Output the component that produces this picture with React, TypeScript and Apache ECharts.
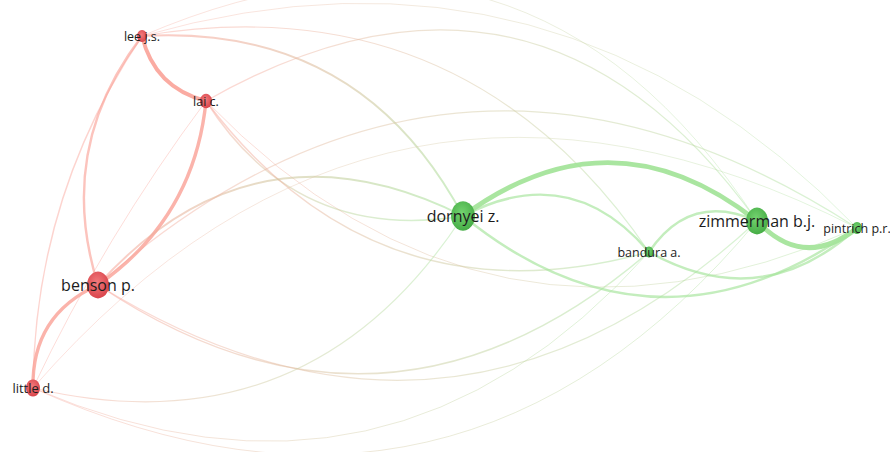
import React, { useEffect, useRef } from "react";
import * as echarts from "echarts";

// ---- Data ----
const nodeNames = [
  "lee j.s.",
  "lai c.",
  "benson p.",
  "little d.",
  "dornyei z.",
  "bandura a.",
  "zimmerman b.j.",
  "pintrich p.r.",
];
// map coordinates (VOSviewer-style layout)
const nodeX = [142, 206, 98, 33, 463, 649, 757, 857];
const nodeY = [36, 101, 285, 388, 216, 252, 221, 228];
// node weight (drives circle size)
const nodeWeight = [10, 12, 22, 14, 24, 9, 22, 10];
const nodeCluster = [0, 0, 0, 0, 1, 1, 1, 1];

// links: source index, target index, link strength
const linkSource = [0, 0, 1, 2, 0, 1, 0, 0, 0, 0, 1, 1, 1, 1, 2, 2, 2, 2, 3, 3, 3, 3, 4, 4, 4, 5, 5, 6];
const linkTarget = [1, 2, 2, 3, 3, 3, 4, 5, 6, 7, 4, 5, 7, 6, 4, 7, 5, 6, 4, 5, 6, 7, 6, 5, 7, 6, 7, 7];
const linkStrength = [7, 4, 6, 6, 2, 1, 3, 1.5, 0.8, 0.8, 2, 2, 1, 1.5, 3, 1.5, 2, 1.5, 1.5, 1, 1, 0.8, 9, 4, 4, 4, 4, 9];
// arc bend of each link (signed curveness)
const linkBend = [-0.3, -0.26, 0.23, -0.33, -0.15, -0.05, 0.32, 0.32, 0.42, 0.3, -0.33, -0.34, -0.35, 0.45, 0.38, 0.38, -0.38, -0.38, -0.35, -0.36, -0.38, 0.39, 0.38, 0.4, -0.38, 0.42, -0.36, -0.46];

// ---- Styles ----
const clusterEdge = [
  [250, 165, 155],
  [165, 228, 155],
];
const clusterNode = [
  ["#f27a7c", "#d9454c"],
  ["#74d370", "#46ad46"],
];
const labelSize = (w: number) => (w >= 22 ? 16 : w >= 20 ? 15 : w >= 14 ? 13 : 12.5);

export default function App() {
  const ref = useRef<HTMLDivElement>(null);
  useEffect(() => {
    if (!ref.current) return;
    const chart = echarts.init(ref.current, undefined, { renderer: "svg" });

    const nodes = nodeNames.map((name, i) => {
      const c = clusterNode[nodeCluster[i]];
      const w = nodeWeight[i];
      return {
        name,
        x: nodeX[i],
        y: nodeY[i],
        symbol: "circle",
        symbolSize: [w, w * 1.22],
        itemStyle: {
          color: new echarts.graphic.RadialGradient(0.45, 0.4, 0.6, [
            { offset: 0, color: c[0] },
            { offset: 1, color: c[1] },
          ]),
        },
        label: {
          show: true,
          position: "inside",
          color: "#1c1c1c",
          fontFamily: "Open Sans",
          fontSize: labelSize(w),
        },
      };
    });

    const links = linkSource.map((s, k) => {
      const t = linkTarget[k];
      const st = linkStrength[k];
      const alpha = Math.min(0.95, 0.3 + st * 0.09);
      const a = clusterEdge[nodeCluster[s]];
      const b = clusterEdge[nodeCluster[t]];
      const dx = nodeX[t] - nodeX[s];
      const dy = nodeY[t] - nodeY[s];
      let x0 = dx >= 0 ? 0 : 1;
      let x1 = 1 - x0;
      let y0 = 0.5,
        y1 = 0.5;
      if (Math.abs(dy) > 0.4 * Math.abs(dx)) {
        y0 = dy >= 0 ? 0 : 1;
        y1 = 1 - y0;
      }
      if (Math.abs(dx) < 0.3 * Math.abs(dy)) {
        x0 = 0.5;
        x1 = 0.5;
      }
      return {
        source: nodeNames[s],
        target: nodeNames[t],
        lineStyle: {
          width: 0.5 + st * 0.48,
          curveness: linkBend[k],
          opacity: 1,
          color: new echarts.graphic.LinearGradient(x0, y0, x1, y1, [
            { offset: 0, color: `rgba(${a[0]},${a[1]},${a[2]},${alpha})` },
            { offset: 1, color: `rgba(${b[0]},${b[1]},${b[2]},${alpha})` },
          ]),
        },
      };
    });

    chart.setOption({
      animation: false,
      backgroundColor: "#ffffff",
      series: [
        {
          type: "graph",
          layout: "none",
          left: 33,
          top: 36,
          width: 824,
          height: 352,
          roam: false,
          data: nodes,
          links,
          edgeSymbol: ["none", "none"],
          emphasis: { disabled: true },
          lineStyle: { opacity: 1 },
        },
      ],
    });
    return () => chart.dispose();
  }, []);
  return (
    <div
      ref={ref}
      style={{ position: "absolute", left: 0, top: 0, width: 890, height: 452, background: "#fff" }}
    />
  );
}
